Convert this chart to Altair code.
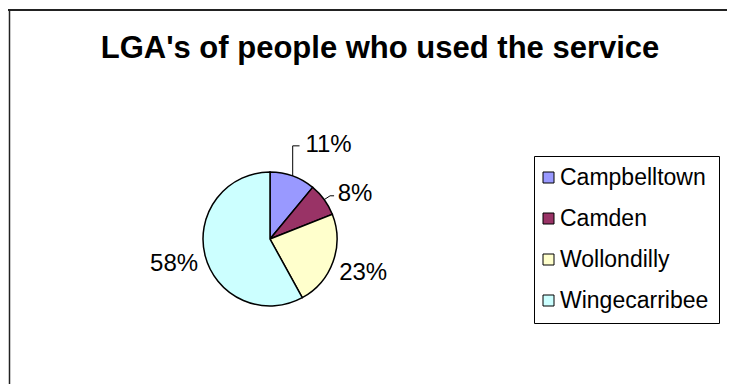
import math
import altair as alt
import pandas as pd

# ---- data ----
categories = ["Campbelltown", "Camden", "Wollondilly", "Wingecarribee"]
shares = [11, 8, 23, 58]
labels = ["11%", "8%", "23%", "58%"]
colors = ["#9999FF", "#993366", "#FFFFCC", "#CCFFFF"]
title_text = "LGA's of people who used the service"

df = pd.DataFrame({"cat": categories, "value": shares, "label": labels,
                   "idx": list(range(len(categories)))})

W, H = 719, 376
CX, CY, R = 262, 231, 67
RL = 99
FONT = "Liberation Sans"

base = alt.Chart(df).encode(
    theta=alt.Theta("value:Q", stack=True),
    order=alt.Order("idx:Q"),
)

pie = base.mark_arc(stroke="black", strokeWidth=1.5, radius=R).encode(
    x=alt.value(CX), y=alt.value(CY),
    color=alt.Color("cat:N", scale=alt.Scale(domain=categories, range=colors),
                    sort=categories,
                    legend=alt.Legend(orient="none", legendX=526, legendY=148,
                                      title=None, symbolType="square",
                                      symbolSize=121, symbolStrokeColor="black",
                                      symbolStrokeWidth=1, symbolOffset=-7,
                                      labelFont=FONT,
                                      labelFontSize=23, labelColor="black",
                                      rowPadding=17, padding=10, labelOffset=0,
                                      strokeColor="black", fillColor="white",
                                      labelLimit=400)),
)

def label_layer(cats, dx=0, dy=0):
    test = " || ".join(f"datum.cat == '{c}'" for c in cats)
    return base.mark_text(radius=RL, font=FONT, fontSize=24, color="black",
                          align="center", baseline="middle", dx=dx, dy=dy).encode(
        x=alt.value(CX), y=alt.value(CY),
        text=alt.condition(test, alt.Text("label:N"), alt.value("")),
    )

NUDGE = {"Campbelltown": (25, -1), "Camden": (5, 13)}
lab_main = label_layer(["Wollondilly", "Wingecarribee"])
lab_a = label_layer(["Campbelltown"], *NUDGE["Campbelltown"])
lab_b = label_layer(["Camden"], *NUDGE["Camden"])

# leader lines computed from slice geometry
total = sum(shares)
cum = 0
mids = {}
for c, v in zip(categories, shares):
    mids[c] = (cum + v / 2) / total * 2 * math.pi
    cum += v

def polar(a, r):
    return CX + r * math.sin(a), CY - r * math.cos(a)

rows = []
a = mids["Campbelltown"]
ex, ey = polar(a, R)
lx, ly = polar(a, RL)
lx += NUDGE["Campbelltown"][0]; ly += NUDGE["Campbelltown"][1]
pts = [(ex, ey), (ex, ly + 1), (lx - 29, ly + 1)]
for i, (px, py) in enumerate(pts):
    rows.append({"id": "a", "o": i, "px": px, "py": py})
a = mids["Camden"]
ex, ey = polar(a, R)
lx, ly = polar(a, RL)
lx += NUDGE["Camden"][0]; ly += NUDGE["Camden"][1]
pts = [(ex, ey), (lx - 25, ly + 2), (lx - 21, ly + 2)]
for i, (px, py) in enumerate(pts):
    rows.append({"id": "b", "o": i, "px": px, "py": py})

leaders = alt.Chart(pd.DataFrame(rows)).mark_line(color="black", strokeWidth=1).encode(
    x=alt.X("px:Q", scale=None, axis=None),
    y=alt.Y("py:Q", scale=None, axis=None),
    detail="id:N",
    order="o:Q",
)

one = pd.DataFrame({"t": [title_text]})
title = alt.Chart(one).mark_text(font=FONT, fontSize=31, fontWeight="bold",
                                 color="black", align="center",
                                 baseline="alphabetic").encode(
    x=alt.value(372), y=alt.value(50), text="t:N")

top_rule = alt.Chart(one).mark_rule(color="#222222", strokeWidth=2).encode(
    x=alt.value(0), x2=alt.value(W), y=alt.value(2))
left_rule = alt.Chart(one).mark_rule(color="#222222", strokeWidth=1.5).encode(
    x=alt.value(1.5), y=alt.value(1), y2=alt.value(H))

chart = alt.layer(top_rule, left_rule, title, pie, leaders, lab_main, lab_a, lab_b).properties(
    width=W, height=H, padding=0, autosize=alt.AutoSizeParams(type="none"),
    background="white",
).configure_view(stroke=None)

chart.save("out.html", embed_options={"renderer": "svg", "actions": False})
